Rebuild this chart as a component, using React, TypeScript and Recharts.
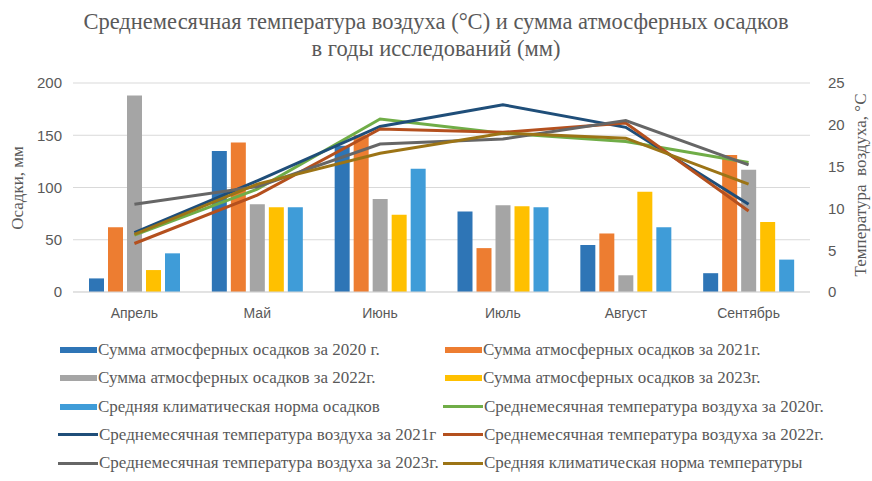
import { ComposedChart, Bar, Line, XAxis, YAxis, CartesianGrid } from 'recharts';

const months = ['Апрель', 'Май', 'Июнь', 'Июль', 'Август', 'Сентябрь'];

// осадки, мм
const precip2020 = [13, 135, 140, 77, 45, 18];
const precip2021 = [62, 143, 150, 42, 56, 131];
const precip2022 = [188, 84, 89, 83, 16, 117];
const precip2023 = [21, 81, 74, 82, 96, 67];
const precipNorm = [37, 81, 118, 81, 62, 31];

// температура, °С
const temp2020 = [6.8, 12.3, 20.7, 19.0, 18.0, 15.5];
const temp2021 = [7.1, 13.3, 19.8, 22.4, 19.7, 10.5];
const temp2022 = [5.8, 11.6, 19.5, 19.1, 20.2, 9.7];
const temp2023 = [10.5, 12.6, 17.7, 18.3, 20.5, 15.2];
const tempNorm = [6.9, 12.9, 16.6, 19.0, 18.4, 12.9];

const precipTicks = [0, 50, 100, 150, 200];
const tempTicks = [0, 5, 10, 15, 20, 25];

const bars = [
  { key: 'p2020', values: precip2020, color: '#2E75B6', name: 'Сумма атмосферных осадков за 2020 г.' },
  { key: 'p2021', values: precip2021, color: '#ED7D31', name: 'Сумма атмосферных осадков за 2021г.' },
  { key: 'p2022', values: precip2022, color: '#A5A5A5', name: 'Сумма атмосферных осадков за 2022г.' },
  { key: 'p2023', values: precip2023, color: '#FFC000', name: 'Сумма атмосферных осадков за 2023г.' },
  { key: 'pNorm', values: precipNorm, color: '#3F9CD8', name: 'Средняя климатическая норма осадков' },
];

const lines = [
  { key: 't2020', values: temp2020, color: '#70AD47', name: 'Среднемесячная температура воздуха за 2020г.' },
  { key: 't2021', values: temp2021, color: '#1F4E79', name: 'Среднемесячная температура воздуха за 2021г' },
  { key: 't2022', values: temp2022, color: '#B4501E', name: 'Среднемесячная температура воздуха за 2022г.' },
  { key: 't2023', values: temp2023, color: '#666666', name: 'Среднемесячная температура воздуха за 2023г.' },
  { key: 'tNorm', values: tempNorm, color: '#9C7416', name: 'Средняя климатическая норма температуры' },
];

const data = months.map((m, i) => {
  const row: Record<string, string | number> = { month: m };
  bars.forEach((b) => (row[b.key] = b.values[i]));
  lines.forEach((l) => (row[l.key] = l.values[i]));
  return row;
});

const legendItems = [
  ...bars.map((b) => ({ ...b, kind: 'bar' })),
  ...lines.map((l) => ({ ...l, kind: 'line' })),
];

const serif = '"Liberation Serif", "Times New Roman", serif';
const sans = '"Liberation Sans", Arial, sans-serif';
const textColor = '#595959';

export default function App() {
  return (
    <div style={{ position: 'absolute', left: 0, top: 0, width: 872, height: 481, background: '#fff' }}>
      <div
        style={{
          position: 'absolute',
          top: 8,
          left: 0,
          width: 872,
          textAlign: 'center',
          fontFamily: serif,
          fontSize: 22.5,
          lineHeight: '27px',
          color: textColor,
        }}
      >
        Среднемесячная температура воздуха (°С) и сумма атмосферных осадков
        <br />в годы исследований (мм)
      </div>

      <div style={{ position: 'absolute', top: 0, left: 0 }}>
        <ComposedChart
          width={872}
          height={330}
          data={data}
          margin={{ top: 83, right: 0, left: 0, bottom: 0 }}
          barSize={15}
          barGap={4}
        >
          <CartesianGrid vertical={false} stroke="#D9D9D9" strokeWidth={1.2} yAxisId="left" />
          <XAxis
            dataKey="month"
            axisLine={{ stroke: '#D9D9D9' }}
            tickLine={false}
            height={38}
            tickMargin={10}
            tick={{ fill: textColor, fontSize: 14, fontFamily: sans }}
          />
          <YAxis
            yAxisId="left"
            domain={[0, 200]}
            ticks={precipTicks}
            width={73}
            axisLine={false}
            tickLine={false}
            tickMargin={5}
            tick={{ fill: textColor, fontSize: 15, fontFamily: sans }}
          />
          <YAxis
            yAxisId="right"
            orientation="right"
            domain={[0, 25]}
            ticks={tempTicks}
            width={62}
            axisLine={false}
            tickLine={false}
            tickMargin={12}
            tick={{ fill: textColor, fontSize: 15, fontFamily: sans }}
          />
          {bars.map((b) => (
            <Bar key={b.key} yAxisId="left" dataKey={b.key} fill={b.color} isAnimationActive={false} />
          ))}
          {lines.map((l) => (
            <Line
              key={l.key}
              yAxisId="right"
              dataKey={l.key}
              stroke={l.color}
              strokeWidth={3}
              dot={false}
              type="linear"
              isAnimationActive={false}
            />
          ))}
        </ComposedChart>
      </div>

      <div
        style={{
          position: 'absolute',
          left: 18,
          top: 188,
          transform: 'translate(-50%, -50%) rotate(-90deg)',
          whiteSpace: 'nowrap',
          fontFamily: serif,
          fontSize: 17,
          color: textColor,
        }}
      >
        Осадки, мм
      </div>
      <div
        style={{
          position: 'absolute',
          left: 861,
          top: 185,
          transform: 'translate(-50%, -50%) rotate(-90deg)',
          whiteSpace: 'pre',
          fontFamily: serif,
          fontSize: 17,
          color: textColor,
        }}
      >
        {'Температура  воздуха, °С'}
      </div>

      {legendItems.map((item, i) => {
        const col = i % 2;
        const row = Math.floor(i / 2);
        const x = col === 0 ? 58 : 443;
        const y = 350 + row * 28.3;
        return (
          <div
            key={item.key}
            style={{
              position: 'absolute',
              left: x,
              top: y - 10,
              height: 20,
              display: 'flex',
              alignItems: 'center',
              whiteSpace: 'nowrap',
              fontFamily: serif,
              fontSize: 17,
              color: textColor,
            }}
          >
            <span
              style={{
                display: 'inline-block',
                width: item.kind === 'bar' ? 37 : 40,
                height: item.kind === 'bar' ? 6 : 3,
                background: item.color,
                marginLeft: item.kind === 'bar' ? 2 : 0,
                marginRight: 1,
              }}
            />
            {item.name}
          </div>
        );
      })}
    </div>
  );
}
